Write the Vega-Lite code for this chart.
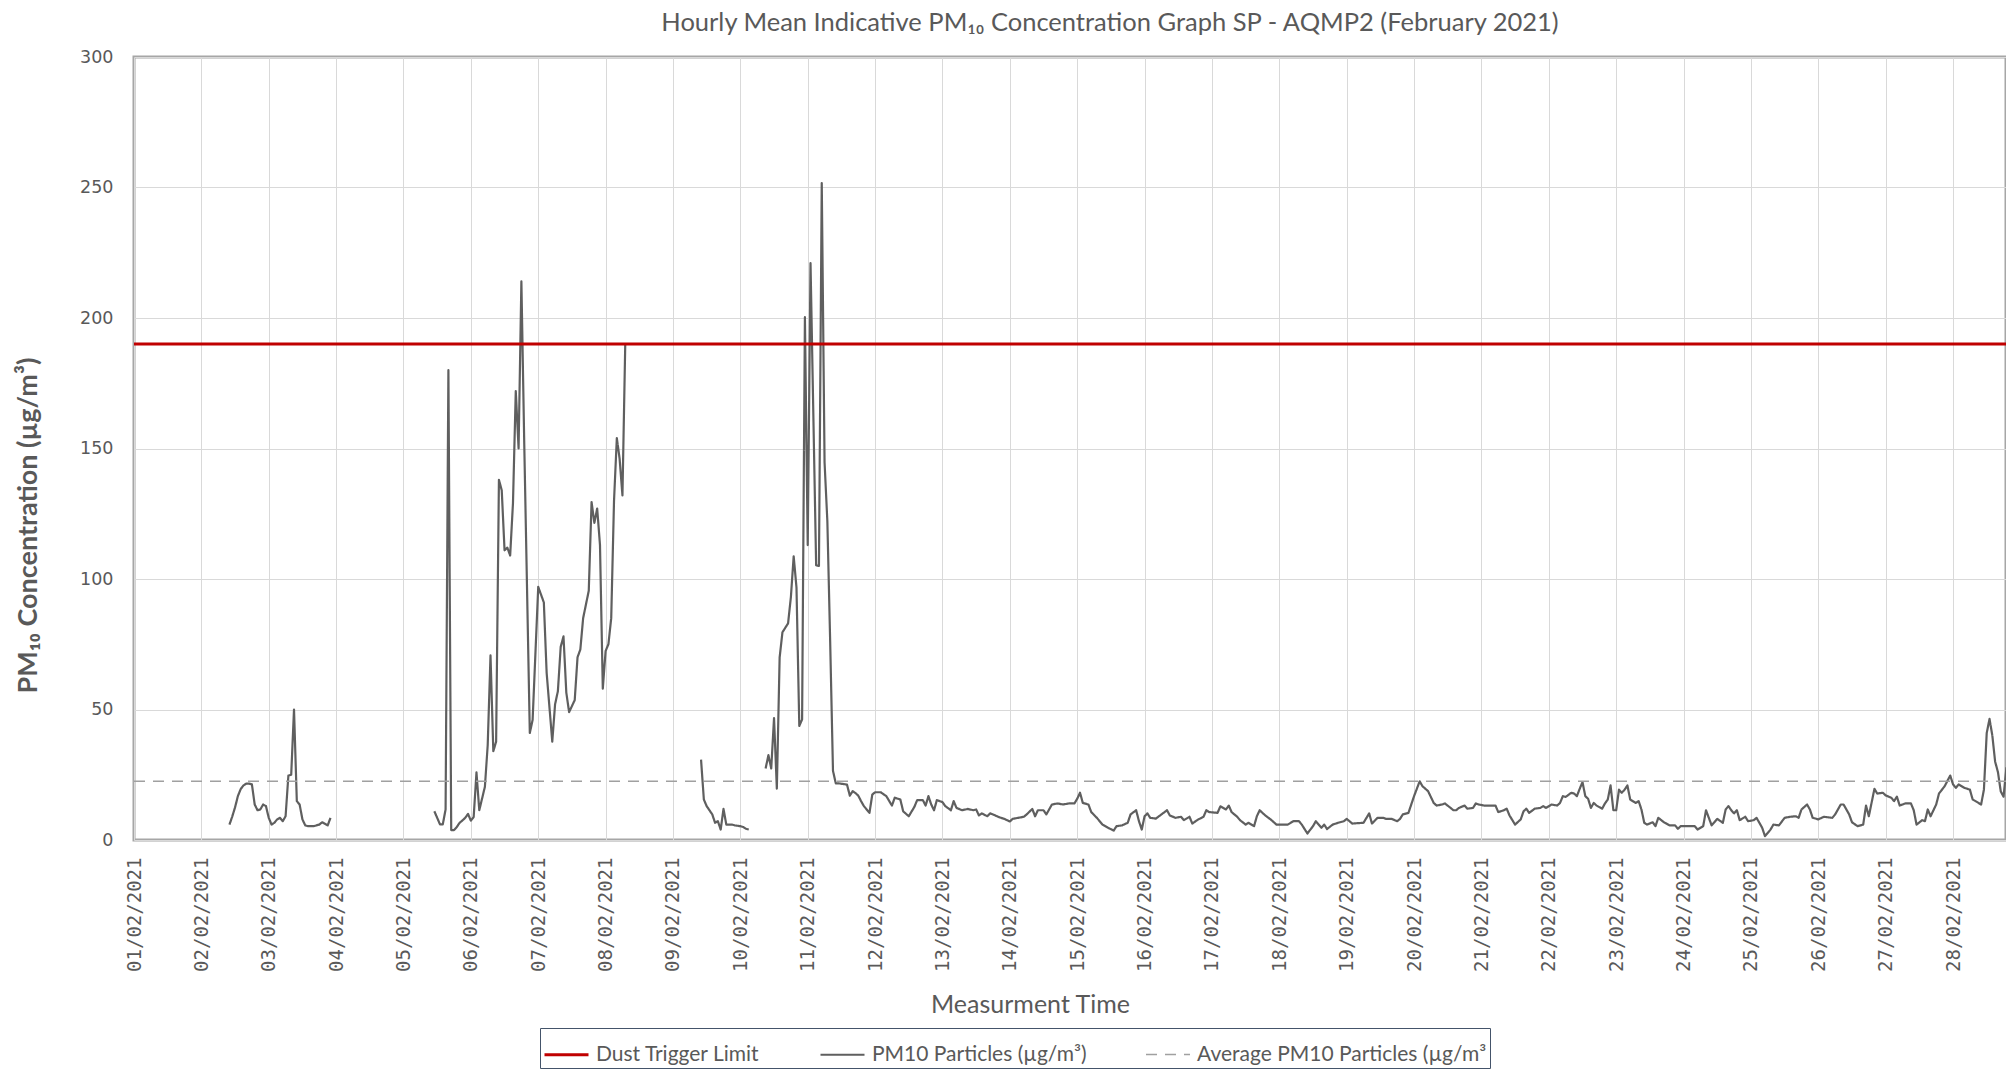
{
  "$schema": "https://vega.github.io/schema/vega-lite/v6.json",
  "autosize": {"type": "none"},
  "padding": {"left": 134, "top": 57, "right": 0, "bottom": 235},
  "width": 1872,
  "height": 783,
  "background": "white",
  "title": {
    "text": "Hourly Mean Indicative PM₁₀ Concentration Graph SP - AQMP2 (February 2021)",
    "font": "Lato", "fontSize": 25.5, "fontWeight": "normal", "color": "#595959",
    "anchor": "middle", "dx": 40, "offset": 12
  },
  "config": {
    "view": {"stroke": "#a6a6a6", "strokeWidth": 3},
    "axis": {"gridColor": "#d9d9d9", "gridWidth": 1, "domain": false, "ticks": false, "tickSize": 0},
    "legend": {"labelLimit": 500}
  },
  "datasets": {
    "pm": [
      {"t":"2021-02-02T10:00","v":5.9,"g":1},{"t":"2021-02-02T11:00","v":9,"g":1},{"t":"2021-02-02T12:00","v":12.5,"g":1},{"t":"2021-02-02T13:00","v":16.8,"g":1},{"t":"2021-02-02T14:00","v":19.5,"g":1},{"t":"2021-02-02T15:00","v":20.9,"g":1},{"t":"2021-02-02T16:00","v":21.6,"g":1},{"t":"2021-02-02T17:00","v":21.6,"g":1},{"t":"2021-02-02T18:00","v":21.3,"g":1},{"t":"2021-02-02T19:00","v":13.6,"g":1},{"t":"2021-02-02T20:00","v":11.4,"g":1},{"t":"2021-02-02T21:00","v":11.7,"g":1},{"t":"2021-02-02T22:00","v":13.6,"g":1},{"t":"2021-02-02T23:00","v":13,"g":1},
      {"t":"2021-02-03T00:00","v":8.5,"g":1},{"t":"2021-02-03T01:00","v":5.9,"g":1},{"t":"2021-02-03T02:00","v":6.6,"g":1},{"t":"2021-02-03T03:00","v":7.9,"g":1},{"t":"2021-02-03T04:00","v":8.5,"g":1},{"t":"2021-02-03T05:00","v":7.2,"g":1},{"t":"2021-02-03T06:00","v":9.1,"g":1},{"t":"2021-02-03T07:00","v":24.7,"g":1},{"t":"2021-02-03T08:00","v":25,"g":1},{"t":"2021-02-03T09:00","v":50,"g":1},{"t":"2021-02-03T10:00","v":14.9,"g":1},{"t":"2021-02-03T11:00","v":13.6,"g":1},{"t":"2021-02-03T12:00","v":7.9,"g":1},{"t":"2021-02-03T13:00","v":5.6,"g":1},{"t":"2021-02-03T14:00","v":5.3,"g":1},{"t":"2021-02-03T15:00","v":5.3,"g":1},{"t":"2021-02-03T16:00","v":5.3,"g":1},{"t":"2021-02-03T17:00","v":5.6,"g":1},{"t":"2021-02-03T18:00","v":5.9,"g":1},{"t":"2021-02-03T19:00","v":6.8,"g":1},{"t":"2021-02-03T20:00","v":6.2,"g":1},{"t":"2021-02-03T21:00","v":5.6,"g":1},{"t":"2021-02-03T22:00","v":8.5,"g":1},
      {"t":"2021-02-05T11:00","v":11,"g":2},{"t":"2021-02-05T12:00","v":8.5,"g":2},{"t":"2021-02-05T13:00","v":6,"g":2},{"t":"2021-02-05T14:00","v":6,"g":2},{"t":"2021-02-05T15:00","v":11.7,"g":2},{"t":"2021-02-05T16:00","v":180,"g":2},{"t":"2021-02-05T17:00","v":3.8,"g":2},{"t":"2021-02-05T18:00","v":3.8,"g":2},{"t":"2021-02-05T19:00","v":5,"g":2},{"t":"2021-02-05T20:00","v":6.6,"g":2},{"t":"2021-02-05T21:00","v":7.5,"g":2},{"t":"2021-02-05T22:00","v":8.5,"g":2},{"t":"2021-02-05T23:00","v":10,"g":2},
      {"t":"2021-02-06T00:00","v":7.4,"g":2},{"t":"2021-02-06T01:00","v":8.8,"g":2},{"t":"2021-02-06T02:00","v":25.9,"g":2},{"t":"2021-02-06T03:00","v":11.4,"g":2},{"t":"2021-02-06T05:00","v":20.4,"g":2},{"t":"2021-02-06T06:00","v":36.3,"g":2},{"t":"2021-02-06T07:00","v":70.7,"g":2},{"t":"2021-02-06T08:00","v":34,"g":2},{"t":"2021-02-06T09:00","v":37.7,"g":2},{"t":"2021-02-06T10:00","v":138,"g":2},{"t":"2021-02-06T11:00","v":134,"g":2},{"t":"2021-02-06T12:00","v":111,"g":2},{"t":"2021-02-06T13:00","v":112,"g":2},{"t":"2021-02-06T14:00","v":109,"g":2},{"t":"2021-02-06T15:00","v":129,"g":2},{"t":"2021-02-06T16:00","v":172,"g":2},{"t":"2021-02-06T17:00","v":150,"g":2},{"t":"2021-02-06T18:00","v":214,"g":2},{"t":"2021-02-06T19:00","v":153,"g":2},{"t":"2021-02-06T21:00","v":41,"g":2},{"t":"2021-02-06T22:00","v":46,"g":2},
      {"t":"2021-02-07T00:00","v":97,"g":2},{"t":"2021-02-07T02:00","v":91,"g":2},{"t":"2021-02-07T03:00","v":64,"g":2},{"t":"2021-02-07T05:00","v":37.7,"g":2},{"t":"2021-02-07T06:00","v":52,"g":2},{"t":"2021-02-07T07:00","v":57,"g":2},{"t":"2021-02-07T08:00","v":74,"g":2},{"t":"2021-02-07T09:00","v":78,"g":2},{"t":"2021-02-07T10:00","v":56.5,"g":2},{"t":"2021-02-07T11:00","v":49,"g":2},{"t":"2021-02-07T13:00","v":53.6,"g":2},{"t":"2021-02-07T14:00","v":70,"g":2},{"t":"2021-02-07T15:00","v":73,"g":2},{"t":"2021-02-07T16:00","v":85,"g":2},{"t":"2021-02-07T18:00","v":95.5,"g":2},{"t":"2021-02-07T19:00","v":129.5,"g":2},{"t":"2021-02-07T20:00","v":121.5,"g":2},{"t":"2021-02-07T21:00","v":127,"g":2},{"t":"2021-02-07T22:00","v":113,"g":2},{"t":"2021-02-07T23:00","v":58,"g":2},
      {"t":"2021-02-08T00:00","v":72.4,"g":2},{"t":"2021-02-08T01:00","v":75,"g":2},{"t":"2021-02-08T02:00","v":85,"g":2},{"t":"2021-02-08T03:00","v":130,"g":2},{"t":"2021-02-08T04:00","v":154,"g":2},{"t":"2021-02-08T05:00","v":146,"g":2},{"t":"2021-02-08T06:00","v":132,"g":2},{"t":"2021-02-08T07:00","v":190,"g":2},
      {"t":"2021-02-09T10:00","v":30.8,"g":3},{"t":"2021-02-09T11:00","v":15.5,"g":3},{"t":"2021-02-09T12:00","v":13,"g":3},{"t":"2021-02-09T14:00","v":9.8,"g":3},{"t":"2021-02-09T15:00","v":6.6,"g":3},{"t":"2021-02-09T16:00","v":7.2,"g":3},{"t":"2021-02-09T17:00","v":4,"g":3},{"t":"2021-02-09T18:00","v":11.9,"g":3},{"t":"2021-02-09T19:00","v":5.9,"g":3},{"t":"2021-02-09T21:00","v":5.9,"g":3},{"t":"2021-02-09T22:00","v":5.6,"g":3},{"t":"2021-02-10T00:00","v":5.3,"g":3},{"t":"2021-02-10T01:00","v":5,"g":3},{"t":"2021-02-10T02:00","v":4.3,"g":3},{"t":"2021-02-10T03:00","v":4,"g":3},
      {"t":"2021-02-10T09:00","v":27.4,"g":4},{"t":"2021-02-10T10:00","v":32.5,"g":4},{"t":"2021-02-10T11:00","v":27.4,"g":4},{"t":"2021-02-10T12:00","v":46.7,"g":4},{"t":"2021-02-10T13:00","v":19.7,"g":4},{"t":"2021-02-10T14:00","v":70,"g":4},{"t":"2021-02-10T15:00","v":79.6,"g":4},{"t":"2021-02-10T17:00","v":83,"g":4},{"t":"2021-02-10T18:00","v":93,"g":4},{"t":"2021-02-10T19:00","v":108.7,"g":4},{"t":"2021-02-10T20:00","v":96.7,"g":4},{"t":"2021-02-10T21:00","v":43.7,"g":4},{"t":"2021-02-10T22:00","v":46.2,"g":4},{"t":"2021-02-10T23:00","v":200.3,"g":4},
      {"t":"2021-02-11T00:00","v":113,"g":4},{"t":"2021-02-11T01:00","v":221,"g":4},{"t":"2021-02-11T03:00","v":105.3,"g":4},{"t":"2021-02-11T04:00","v":105,"g":4},{"t":"2021-02-11T05:00","v":251.7,"g":4},{"t":"2021-02-11T06:00","v":144.7,"g":4},{"t":"2021-02-11T07:00","v":122,"g":4},{"t":"2021-02-11T08:00","v":76,"g":4},{"t":"2021-02-11T09:00","v":26.5,"g":4},{"t":"2021-02-11T10:00","v":21.7,"g":4},{"t":"2021-02-11T11:00","v":21.7,"g":4},{"t":"2021-02-11T13:00","v":21.4,"g":4},{"t":"2021-02-11T14:00","v":21.2,"g":4},{"t":"2021-02-11T15:00","v":17,"g":4},{"t":"2021-02-11T16:00","v":18.7,"g":4},{"t":"2021-02-11T17:00","v":18,"g":4},{"t":"2021-02-11T18:00","v":17,"g":4},{"t":"2021-02-11T19:00","v":14.9,"g":4},{"t":"2021-02-11T20:00","v":13,"g":4},{"t":"2021-02-11T22:00","v":10.4,"g":4},{"t":"2021-02-11T23:00","v":17.4,"g":4},
      {"t":"2021-02-12T00:00","v":18.3,"g":4},{"t":"2021-02-12T02:00","v":18.3,"g":4},{"t":"2021-02-12T04:00","v":16.8,"g":4},{"t":"2021-02-12T06:00","v":13.2,"g":4},{"t":"2021-02-12T07:00","v":16.2,"g":4},{"t":"2021-02-12T09:00","v":15.5,"g":4},{"t":"2021-02-12T10:00","v":11,"g":4},{"t":"2021-02-12T12:00","v":9.1,"g":4},{"t":"2021-02-12T14:00","v":12.7,"g":4},{"t":"2021-02-12T15:00","v":15.3,"g":4},{"t":"2021-02-12T17:00","v":15.3,"g":4},{"t":"2021-02-12T18:00","v":13.2,"g":4},{"t":"2021-02-12T19:00","v":16.8,"g":4},{"t":"2021-02-12T20:00","v":13.6,"g":4},{"t":"2021-02-12T21:00","v":11.4,"g":4},{"t":"2021-02-12T22:00","v":15.3,"g":4},
      {"t":"2021-02-13T00:00","v":14.5,"g":4},{"t":"2021-02-13T01:00","v":13,"g":4},{"t":"2021-02-13T03:00","v":11.4,"g":4},{"t":"2021-02-13T04:00","v":14.9,"g":4},{"t":"2021-02-13T05:00","v":12.3,"g":4},{"t":"2021-02-13T07:00","v":11.4,"g":4},{"t":"2021-02-13T09:00","v":11.9,"g":4},{"t":"2021-02-13T11:00","v":11.4,"g":4},{"t":"2021-02-13T12:00","v":11.7,"g":4},{"t":"2021-02-13T13:00","v":9.4,"g":4},{"t":"2021-02-13T14:00","v":10.2,"g":4},{"t":"2021-02-13T16:00","v":9.1,"g":4},{"t":"2021-02-13T17:00","v":10.2,"g":4},{"t":"2021-02-13T18:00","v":9.8,"g":4},{"t":"2021-02-13T20:00","v":8.8,"g":4},{"t":"2021-02-13T22:00","v":8.1,"g":4},
      {"t":"2021-02-14T00:00","v":7.1,"g":4},{"t":"2021-02-14T01:00","v":8.1,"g":4},{"t":"2021-02-14T03:00","v":8.5,"g":4},{"t":"2021-02-14T05:00","v":8.9,"g":4},{"t":"2021-02-14T06:00","v":9.8,"g":4},{"t":"2021-02-14T08:00","v":11.9,"g":4},{"t":"2021-02-14T09:00","v":9.1,"g":4},{"t":"2021-02-14T10:00","v":11.4,"g":4},{"t":"2021-02-14T12:00","v":11.4,"g":4},{"t":"2021-02-14T13:00","v":9.8,"g":4},{"t":"2021-02-14T15:00","v":13.6,"g":4},{"t":"2021-02-14T17:00","v":14,"g":4},{"t":"2021-02-14T19:00","v":13.6,"g":4},{"t":"2021-02-14T21:00","v":14,"g":4},{"t":"2021-02-14T23:00","v":14,"g":4},
      {"t":"2021-02-15T00:00","v":15.8,"g":4},{"t":"2021-02-15T01:00","v":18.1,"g":4},{"t":"2021-02-15T02:00","v":14.2,"g":4},{"t":"2021-02-15T04:00","v":13.6,"g":4},{"t":"2021-02-15T05:00","v":10.7,"g":4},{"t":"2021-02-15T07:00","v":8.5,"g":4},{"t":"2021-02-15T09:00","v":5.9,"g":4},{"t":"2021-02-15T11:00","v":4.7,"g":4},{"t":"2021-02-15T13:00","v":3.6,"g":4},{"t":"2021-02-15T14:00","v":5.3,"g":4},{"t":"2021-02-15T16:00","v":5.6,"g":4},{"t":"2021-02-15T18:00","v":6.6,"g":4},{"t":"2021-02-15T19:00","v":9.8,"g":4},{"t":"2021-02-15T21:00","v":11.4,"g":4},{"t":"2021-02-15T22:00","v":7.2,"g":4},{"t":"2021-02-15T23:00","v":4,"g":4},
      {"t":"2021-02-16T00:00","v":9.1,"g":4},{"t":"2021-02-16T01:00","v":10.2,"g":4},{"t":"2021-02-16T02:00","v":8.5,"g":4},{"t":"2021-02-16T04:00","v":8.2,"g":4},{"t":"2021-02-16T06:00","v":9.8,"g":4},{"t":"2021-02-16T08:00","v":11.4,"g":4},{"t":"2021-02-16T09:00","v":9.4,"g":4},{"t":"2021-02-16T11:00","v":8.5,"g":4},{"t":"2021-02-16T13:00","v":8.9,"g":4},{"t":"2021-02-16T14:00","v":7.6,"g":4},{"t":"2021-02-16T16:00","v":8.9,"g":4},{"t":"2021-02-16T17:00","v":6.3,"g":4},{"t":"2021-02-16T19:00","v":7.8,"g":4},{"t":"2021-02-16T21:00","v":8.9,"g":4},{"t":"2021-02-16T22:00","v":11.4,"g":4},{"t":"2021-02-16T23:00","v":10.7,"g":4},
      {"t":"2021-02-17T02:00","v":10.4,"g":4},{"t":"2021-02-17T03:00","v":12.9,"g":4},{"t":"2021-02-17T05:00","v":11.7,"g":4},{"t":"2021-02-17T06:00","v":13.2,"g":4},{"t":"2021-02-17T07:00","v":10.7,"g":4},{"t":"2021-02-17T09:00","v":8.9,"g":4},{"t":"2021-02-17T10:00","v":7.6,"g":4},{"t":"2021-02-17T12:00","v":5.9,"g":4},{"t":"2021-02-17T13:00","v":6.6,"g":4},{"t":"2021-02-17T15:00","v":5.3,"g":4},{"t":"2021-02-17T16:00","v":9.1,"g":4},{"t":"2021-02-17T17:00","v":11.4,"g":4},{"t":"2021-02-17T19:00","v":9.4,"g":4},{"t":"2021-02-17T21:00","v":7.8,"g":4},{"t":"2021-02-17T23:00","v":5.9,"g":4},
      {"t":"2021-02-18T03:00","v":5.9,"g":4},{"t":"2021-02-18T05:00","v":7.2,"g":4},{"t":"2021-02-18T07:00","v":7.2,"g":4},{"t":"2021-02-18T08:00","v":5.9,"g":4},{"t":"2021-02-18T10:00","v":2.5,"g":4},{"t":"2021-02-18T12:00","v":5.3,"g":4},{"t":"2021-02-18T13:00","v":7.2,"g":4},{"t":"2021-02-18T15:00","v":4.7,"g":4},{"t":"2021-02-18T16:00","v":5.9,"g":4},{"t":"2021-02-18T17:00","v":4.2,"g":4},{"t":"2021-02-18T19:00","v":5.9,"g":4},{"t":"2021-02-18T21:00","v":6.6,"g":4},{"t":"2021-02-18T23:00","v":7.2,"g":4},
      {"t":"2021-02-19T00:00","v":8.1,"g":4},{"t":"2021-02-19T02:00","v":6.3,"g":4},{"t":"2021-02-19T06:00","v":6.6,"g":4},{"t":"2021-02-19T08:00","v":10.2,"g":4},{"t":"2021-02-19T09:00","v":6.3,"g":4},{"t":"2021-02-19T11:00","v":8.5,"g":4},{"t":"2021-02-19T13:00","v":8.5,"g":4},{"t":"2021-02-19T14:00","v":8.1,"g":4},{"t":"2021-02-19T16:00","v":8.1,"g":4},{"t":"2021-02-19T18:00","v":7.2,"g":4},{"t":"2021-02-19T19:00","v":8.1,"g":4},{"t":"2021-02-19T20:00","v":9.8,"g":4},{"t":"2021-02-19T22:00","v":10.4,"g":4},
      {"t":"2021-02-20T00:00","v":16.8,"g":4},{"t":"2021-02-20T02:00","v":22.5,"g":4},{"t":"2021-02-20T03:00","v":20.6,"g":4},{"t":"2021-02-20T05:00","v":18.7,"g":4},{"t":"2021-02-20T07:00","v":14.2,"g":4},{"t":"2021-02-20T08:00","v":13.2,"g":4},{"t":"2021-02-20T10:00","v":13.6,"g":4},{"t":"2021-02-20T11:00","v":14,"g":4},{"t":"2021-02-20T13:00","v":12.3,"g":4},{"t":"2021-02-20T14:00","v":11.4,"g":4},{"t":"2021-02-20T15:00","v":11.4,"g":4},{"t":"2021-02-20T16:00","v":12.3,"g":4},{"t":"2021-02-20T18:00","v":13.2,"g":4},{"t":"2021-02-20T19:00","v":12,"g":4},{"t":"2021-02-20T21:00","v":12.3,"g":4},{"t":"2021-02-20T22:00","v":14,"g":4},{"t":"2021-02-20T23:00","v":13.6,"g":4},
      {"t":"2021-02-21T01:00","v":13.2,"g":4},{"t":"2021-02-21T05:00","v":13.2,"g":4},{"t":"2021-02-21T06:00","v":10.7,"g":4},{"t":"2021-02-21T08:00","v":11.4,"g":4},{"t":"2021-02-21T09:00","v":12,"g":4},{"t":"2021-02-21T10:00","v":9.4,"g":4},{"t":"2021-02-21T12:00","v":5.9,"g":4},{"t":"2021-02-21T14:00","v":7.9,"g":4},{"t":"2021-02-21T15:00","v":11,"g":4},{"t":"2021-02-21T16:00","v":12,"g":4},{"t":"2021-02-21T17:00","v":10.4,"g":4},{"t":"2021-02-21T19:00","v":12,"g":4},{"t":"2021-02-21T21:00","v":12.3,"g":4},{"t":"2021-02-21T22:00","v":13,"g":4},{"t":"2021-02-21T23:00","v":12.3,"g":4},
      {"t":"2021-02-22T01:00","v":13.6,"g":4},{"t":"2021-02-22T03:00","v":13.2,"g":4},{"t":"2021-02-22T04:00","v":14.2,"g":4},{"t":"2021-02-22T05:00","v":16.8,"g":4},{"t":"2021-02-22T06:00","v":16.5,"g":4},{"t":"2021-02-22T08:00","v":18.1,"g":4},{"t":"2021-02-22T09:00","v":17.8,"g":4},{"t":"2021-02-22T10:00","v":16.8,"g":4},{"t":"2021-02-22T11:00","v":19.6,"g":4},{"t":"2021-02-22T12:00","v":22.2,"g":4},{"t":"2021-02-22T13:00","v":16.8,"g":4},{"t":"2021-02-22T14:00","v":15.8,"g":4},{"t":"2021-02-22T15:00","v":12.3,"g":4},{"t":"2021-02-22T16:00","v":14.2,"g":4},{"t":"2021-02-22T17:00","v":13.2,"g":4},{"t":"2021-02-22T19:00","v":12,"g":4},{"t":"2021-02-22T20:00","v":14,"g":4},{"t":"2021-02-22T21:00","v":15.5,"g":4},{"t":"2021-02-22T22:00","v":20.9,"g":4},{"t":"2021-02-22T23:00","v":11.4,"g":4},
      {"t":"2021-02-23T00:00","v":11.4,"g":4},{"t":"2021-02-23T01:00","v":19.3,"g":4},{"t":"2021-02-23T02:00","v":18.1,"g":4},{"t":"2021-02-23T03:00","v":19.3,"g":4},{"t":"2021-02-23T04:00","v":20.9,"g":4},{"t":"2021-02-23T05:00","v":15.5,"g":4},{"t":"2021-02-23T07:00","v":14.2,"g":4},{"t":"2021-02-23T08:00","v":14.9,"g":4},{"t":"2021-02-23T09:00","v":11.7,"g":4},{"t":"2021-02-23T10:00","v":6.6,"g":4},{"t":"2021-02-23T11:00","v":5.9,"g":4},{"t":"2021-02-23T13:00","v":6.8,"g":4},{"t":"2021-02-23T14:00","v":5.3,"g":4},{"t":"2021-02-23T15:00","v":8.5,"g":4},{"t":"2021-02-23T17:00","v":6.8,"g":4},{"t":"2021-02-23T19:00","v":5.6,"g":4},{"t":"2021-02-23T21:00","v":5.6,"g":4},{"t":"2021-02-23T22:00","v":4.3,"g":4},{"t":"2021-02-23T23:00","v":5.3,"g":4},
      {"t":"2021-02-24T04:00","v":5.3,"g":4},{"t":"2021-02-24T05:00","v":4,"g":4},{"t":"2021-02-24T07:00","v":5.3,"g":4},{"t":"2021-02-24T08:00","v":11.4,"g":4},{"t":"2021-02-24T10:00","v":5.6,"g":4},{"t":"2021-02-24T11:00","v":6.8,"g":4},{"t":"2021-02-24T12:00","v":8.1,"g":4},{"t":"2021-02-24T14:00","v":6.6,"g":4},{"t":"2021-02-24T15:00","v":11.7,"g":4},{"t":"2021-02-24T16:00","v":13,"g":4},{"t":"2021-02-24T17:00","v":11.4,"g":4},{"t":"2021-02-24T18:00","v":10.2,"g":4},{"t":"2021-02-24T19:00","v":11.4,"g":4},{"t":"2021-02-24T20:00","v":7.6,"g":4},{"t":"2021-02-24T22:00","v":8.9,"g":4},{"t":"2021-02-24T23:00","v":7.2,"g":4},
      {"t":"2021-02-25T01:00","v":7.6,"g":4},{"t":"2021-02-25T02:00","v":8.5,"g":4},{"t":"2021-02-25T04:00","v":4.7,"g":4},{"t":"2021-02-25T05:00","v":1.5,"g":4},{"t":"2021-02-25T07:00","v":4,"g":4},{"t":"2021-02-25T08:00","v":5.9,"g":4},{"t":"2021-02-25T10:00","v":5.6,"g":4},{"t":"2021-02-25T12:00","v":8.5,"g":4},{"t":"2021-02-25T14:00","v":8.9,"g":4},{"t":"2021-02-25T16:00","v":9.1,"g":4},{"t":"2021-02-25T17:00","v":8.5,"g":4},{"t":"2021-02-25T18:00","v":11.7,"g":4},{"t":"2021-02-25T20:00","v":13.6,"g":4},{"t":"2021-02-25T21:00","v":11.7,"g":4},{"t":"2021-02-25T22:00","v":8.5,"g":4},
      {"t":"2021-02-26T00:00","v":7.9,"g":4},{"t":"2021-02-26T02:00","v":8.9,"g":4},{"t":"2021-02-26T05:00","v":8.5,"g":4},{"t":"2021-02-26T06:00","v":9.8,"g":4},{"t":"2021-02-26T08:00","v":13.6,"g":4},{"t":"2021-02-26T09:00","v":13.6,"g":4},{"t":"2021-02-26T11:00","v":9.8,"g":4},{"t":"2021-02-26T12:00","v":6.8,"g":4},{"t":"2021-02-26T14:00","v":5.3,"g":4},{"t":"2021-02-26T16:00","v":5.9,"g":4},{"t":"2021-02-26T17:00","v":13.2,"g":4},{"t":"2021-02-26T18:00","v":9.1,"g":4},{"t":"2021-02-26T20:00","v":19.6,"g":4},{"t":"2021-02-26T21:00","v":17.8,"g":4},{"t":"2021-02-26T23:00","v":18.1,"g":4},
      {"t":"2021-02-27T00:00","v":17.1,"g":4},{"t":"2021-02-27T02:00","v":16.2,"g":4},{"t":"2021-02-27T03:00","v":14.9,"g":4},{"t":"2021-02-27T04:00","v":16.6,"g":4},{"t":"2021-02-27T05:00","v":13.2,"g":4},{"t":"2021-02-27T07:00","v":14,"g":4},{"t":"2021-02-27T09:00","v":14,"g":4},{"t":"2021-02-27T10:00","v":11.4,"g":4},{"t":"2021-02-27T11:00","v":5.9,"g":4},{"t":"2021-02-27T13:00","v":7.6,"g":4},{"t":"2021-02-27T14:00","v":7.2,"g":4},{"t":"2021-02-27T15:00","v":11.7,"g":4},{"t":"2021-02-27T16:00","v":9.1,"g":4},{"t":"2021-02-27T18:00","v":13.6,"g":4},{"t":"2021-02-27T19:00","v":17.8,"g":4},{"t":"2021-02-27T21:00","v":20.6,"g":4},{"t":"2021-02-27T23:00","v":24.7,"g":4},
      {"t":"2021-02-28T00:00","v":21.3,"g":4},{"t":"2021-02-28T01:00","v":20,"g":4},{"t":"2021-02-28T02:00","v":21.3,"g":4},{"t":"2021-02-28T04:00","v":20,"g":4},{"t":"2021-02-28T06:00","v":19.3,"g":4},{"t":"2021-02-28T07:00","v":15.5,"g":4},{"t":"2021-02-28T08:00","v":14.9,"g":4},{"t":"2021-02-28T10:00","v":13.6,"g":4},{"t":"2021-02-28T11:00","v":19.3,"g":4},{"t":"2021-02-28T12:00","v":41,"g":4},{"t":"2021-02-28T13:00","v":46.4,"g":4},{"t":"2021-02-28T14:00","v":40,"g":4},{"t":"2021-02-28T15:00","v":30,"g":4},{"t":"2021-02-28T16:00","v":26,"g":4},{"t":"2021-02-28T17:00","v":18.6,"g":4},{"t":"2021-02-28T18:00","v":16.6,"g":4},{"t":"2021-02-28T19:00","v":27.6,"g":4},{"t":"2021-02-28T20:00","v":22,"g":4},{"t":"2021-02-28T21:00","v":20,"g":4},{"t":"2021-02-28T22:00","v":19,"g":4},{"t":"2021-02-28T23:00","v":18,"g":4}
    ],
    "refs": [
      {"t":"2021-02-01T00:00","v":190,"s":"Dust Trigger Limit"},
      {"t":"2021-03-01T00:00","v":190,"s":"Dust Trigger Limit"},
      {"t":"2021-02-01T00:00","v":22.5,"s":"Average PM10 Particles (µg/m³"},
      {"t":"2021-03-01T00:00","v":22.5,"s":"Average PM10 Particles (µg/m³"}
    ]
  },
  "layer": [
    {
      "data": {"name": "pm"},
      "transform": [{"calculate": "'PM10 Particles (µg/m³)'", "as": "s"}],
      "mark": {"type": "line", "clip": true, "strokeJoin": "round"},
      "encoding": {
        "x": {"field": "t", "type": "temporal"},
        "y": {"field": "v", "type": "quantitative"},
        "detail": {"field": "g"}
      }
    },
    {
      "data": {"name": "refs"},
      "mark": {"type": "line", "clip": true},
      "encoding": {
        "x": {"field": "t", "type": "temporal"},
        "y": {"field": "v", "type": "quantitative"}
      }
    }
  ],
  "encoding": {
    "x": {
      "field": "t", "type": "temporal",
      "scale": {"domain": [{"year": 2021, "month": 2, "date": 1}, {"year": 2021, "month": 2, "date": 28, "hours": 18, "minutes": 52}], "nice": false},
      "axis": {
        "format": "%d/%m/%Y", "tickCount": {"interval": "day", "step": 1},
        "labelAngle": -90, "labelFont": "DejaVu Sans Mono", "labelFontSize": 19, "labelColor": "#595959",
        "labelPadding": 17, "labelOverlap": false, "labelBound": false, "labelFlush": false,
        "title": "Measurment Time", "titleFont": "Lato", "titleFontSize": 25, "titleFontWeight": "normal",
        "titleColor": "#595959", "titleX": 896, "titleY": 172, "titleBaseline": "alphabetic", "titleAlign": "center"
      }
    },
    "y": {
      "field": "v", "type": "quantitative",
      "scale": {"domain": [0, 300], "nice": false},
      "axis": {
        "values": [0, 50, 100, 150, 200, 250, 300],
        "labelFont": "DejaVu Sans", "labelFontSize": 17.5, "labelColor": "#595959", "labelPadding": 21,
        "title": "PM₁₀ Concentration (µg/m³)", "titleFont": "Lato", "titleFontSize": 27, "titleFontWeight": "bold",
        "titleColor": "#595959", "titleX": -106, "titleY": 468, "titleAngle": -90, "titleAlign": "center", "titleBaseline": "middle"
      }
    },
    "color": {
      "field": "s", "type": "nominal",
      "scale": {"domain": ["Dust Trigger Limit", "PM10 Particles (µg/m³)", "Average PM10 Particles (µg/m³"], "range": ["#c00000", "#5f5f5f", "#a0a0a0"]},
      "legend": {
        "title": null, "orient": "none", "legendX": 406, "legendY": 971, "direction": "horizontal",
        "symbolType": "stroke", "symbolSize": 1936, "labelFont": "Lato", "labelFontSize": 21, "labelColor": "#595959",
        "labelOffset": 6, "columnPadding": 56, "padding": 3, "strokeColor": "#44546a", "labelLimit": 500
      }
    },
    "strokeDash": {
      "field": "s", "type": "nominal",
      "scale": {"domain": ["Dust Trigger Limit", "PM10 Particles (µg/m³)", "Average PM10 Particles (µg/m³"], "range": [[1, 0], [1, 0], [11, 8]]},
      "legend": {
        "title": null, "orient": "none", "legendX": 406, "legendY": 971, "direction": "horizontal",
        "symbolType": "stroke", "symbolSize": 1936, "labelFont": "Lato", "labelFontSize": 21, "labelColor": "#595959",
        "labelOffset": 6, "columnPadding": 56, "padding": 3, "strokeColor": "#44546a", "labelLimit": 500
      }
    },
    "strokeWidth": {
      "field": "s", "type": "nominal",
      "scale": {"domain": ["Dust Trigger Limit", "PM10 Particles (µg/m³)", "Average PM10 Particles (µg/m³"], "range": [3, 1.4, 3]},
      "legend": {
        "title": null, "orient": "none", "legendX": 406, "legendY": 971, "direction": "horizontal",
        "symbolType": "stroke", "symbolSize": 1936, "labelFont": "Lato", "labelFontSize": 21, "labelColor": "#595959",
        "labelOffset": 6, "columnPadding": 56, "padding": 3, "strokeColor": "#44546a", "labelLimit": 500
      }
    }
  }
}
